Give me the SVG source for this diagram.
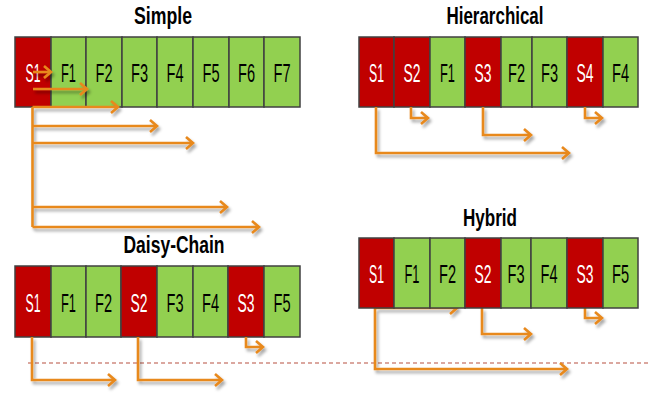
<svg xmlns="http://www.w3.org/2000/svg" width="662" height="395" viewBox="0 0 662 395">
  <style>
    .s { fill: #C00000; stroke: #404040; stroke-width: 1.5; }
    .f { fill: #92D050; stroke: #404040; stroke-width: 1.5; }
    .ls { font-family: "Liberation Sans", Arial, sans-serif; font-size: 26px; fill: #FFFFFF; text-anchor: middle; }
    .lf { font-family: "Liberation Sans", Arial, sans-serif; font-size: 26px; fill: #000000; text-anchor: middle; }
    .title { font-family: "Liberation Sans", Arial, sans-serif; font-size: 23px; font-weight: bold; fill: #000000; text-anchor: middle; }
    .arr { fill: none; stroke: #E8891D; stroke-width: 2.6; stroke-linejoin: miter; marker-end: url(#chev); }
    .ln { fill: none; stroke: #E8891D; stroke-width: 2.6; }
    .cut { fill: none; stroke: #CF8A80; stroke-width: 1.5; stroke-dasharray: 4 3; }
  </style>
  <defs>
    <marker id="chev" markerUnits="userSpaceOnUse" markerWidth="14" markerHeight="16" viewBox="-9 -8 12 16" refX="0" refY="0" orient="auto">
      <path d="M-7,-6 L0,0 L-7,6" fill="none" stroke="#E8891D" stroke-width="2.6"/>
    </marker>
    <filter id="shade" x="-10%" y="-20%" width="130%" height="160%">
      <feDropShadow dx="2" dy="3" stdDeviation="1.4" flood-color="#000000" flood-opacity="0.35"/>
    </filter>
  </defs>

  <!-- Simple -->
  <g id="simple">
    <text class="title" x="163" y="24" textLength="58" lengthAdjust="spacingAndGlyphs">Simple</text>
    <rect class="s" x="15" y="37" width="36" height="70"/>
    <rect class="f" x="51" y="37" width="35" height="70"/>
    <rect class="f" x="86" y="37" width="36" height="70"/>
    <rect class="f" x="122" y="37" width="35" height="70"/>
    <rect class="f" x="157" y="37" width="36" height="70"/>
    <rect class="f" x="193" y="37" width="36" height="70"/>
    <rect class="f" x="229" y="37" width="35" height="70"/>
    <rect class="f" x="264" y="37" width="36" height="70"/>
    <text class="ls" x="33" y="82" textLength="15" lengthAdjust="spacingAndGlyphs">S1</text>
    <text class="lf" x="68.5" y="82" textLength="15" lengthAdjust="spacingAndGlyphs">F1</text>
    <text class="lf" x="104" y="82" textLength="17" lengthAdjust="spacingAndGlyphs">F2</text>
    <text class="lf" x="139.5" y="82" textLength="17" lengthAdjust="spacingAndGlyphs">F3</text>
    <text class="lf" x="175" y="82" textLength="17" lengthAdjust="spacingAndGlyphs">F4</text>
    <text class="lf" x="211" y="82" textLength="17" lengthAdjust="spacingAndGlyphs">F5</text>
    <text class="lf" x="246.5" y="82" textLength="17" lengthAdjust="spacingAndGlyphs">F6</text>
    <text class="lf" x="282" y="82" textLength="17" lengthAdjust="spacingAndGlyphs">F7</text>
  </g>

  <!-- Hierarchical -->
  <g id="hierarchical">
    <text class="title" x="495" y="24" textLength="97" lengthAdjust="spacingAndGlyphs">Hierarchical</text>
    <rect class="s" x="359" y="37" width="35" height="70"/>
    <rect class="s" x="394" y="37" width="36" height="70"/>
    <rect class="f" x="430" y="37" width="35" height="70"/>
    <rect class="s" x="465" y="37" width="36" height="70"/>
    <rect class="f" x="501" y="37" width="31" height="70"/>
    <rect class="f" x="532" y="37" width="35" height="70"/>
    <rect class="s" x="567" y="37" width="36" height="70"/>
    <rect class="f" x="603" y="37" width="35" height="70"/>
    <text class="ls" x="376.5" y="82" textLength="15" lengthAdjust="spacingAndGlyphs">S1</text>
    <text class="ls" x="412" y="82" textLength="17" lengthAdjust="spacingAndGlyphs">S2</text>
    <text class="lf" x="447.5" y="82" textLength="15" lengthAdjust="spacingAndGlyphs">F1</text>
    <text class="ls" x="483" y="82" textLength="17" lengthAdjust="spacingAndGlyphs">S3</text>
    <text class="lf" x="516.5" y="82" textLength="17" lengthAdjust="spacingAndGlyphs">F2</text>
    <text class="lf" x="549.5" y="82" textLength="17" lengthAdjust="spacingAndGlyphs">F3</text>
    <text class="ls" x="585" y="82" textLength="17" lengthAdjust="spacingAndGlyphs">S4</text>
    <text class="lf" x="620.5" y="82" textLength="17" lengthAdjust="spacingAndGlyphs">F4</text>
  </g>

  <!-- Daisy-Chain -->
  <g id="daisy-chain">
    <text class="title" x="174" y="253" textLength="101" lengthAdjust="spacingAndGlyphs">Daisy-Chain</text>
    <rect class="s" x="15" y="266" width="36" height="71"/>
    <rect class="f" x="51" y="266" width="35" height="71"/>
    <rect class="f" x="86" y="266" width="35" height="71"/>
    <rect class="s" x="121" y="266" width="36" height="71"/>
    <rect class="f" x="157" y="266" width="36" height="71"/>
    <rect class="f" x="193" y="266" width="35" height="71"/>
    <rect class="s" x="228" y="266" width="36" height="71"/>
    <rect class="f" x="264" y="266" width="36" height="71"/>
    <text class="ls" x="33" y="312" textLength="15" lengthAdjust="spacingAndGlyphs">S1</text>
    <text class="lf" x="68.5" y="312" textLength="15" lengthAdjust="spacingAndGlyphs">F1</text>
    <text class="lf" x="103.5" y="312" textLength="17" lengthAdjust="spacingAndGlyphs">F2</text>
    <text class="ls" x="139" y="312" textLength="17" lengthAdjust="spacingAndGlyphs">S2</text>
    <text class="lf" x="175" y="312" textLength="17" lengthAdjust="spacingAndGlyphs">F3</text>
    <text class="lf" x="210.5" y="312" textLength="17" lengthAdjust="spacingAndGlyphs">F4</text>
    <text class="ls" x="246" y="312" textLength="17" lengthAdjust="spacingAndGlyphs">S3</text>
    <text class="lf" x="282" y="312" textLength="17" lengthAdjust="spacingAndGlyphs">F5</text>
  </g>

  <!-- Connectors -->
  <g id="connectors">
    <line class="cut" x1="28" y1="363" x2="650" y2="363"/>
    <g filter="url(#shade)">
      <!-- Simple: S1 fans out to every frame -->
      <path class="arr" d="M33,72 H51"/>
      <path class="arr" d="M33,89 H87"/>
      <path class="ln" d="M32.5,107 V227"/>
      <path class="arr" d="M32.5,107 H118"/>
      <path class="arr" d="M32.5,126 H157"/>
      <path class="arr" d="M32.5,143 H193"/>
      <path class="arr" d="M32.5,207 H227"/>
      <path class="arr" d="M32.5,227 H259"/>
      <!-- Hierarchical -->
      <path class="arr" d="M376,107 V153 H569"/>
      <path class="arr" d="M411,107 V118 H428"/>
      <path class="arr" d="M483,107 V135 H531"/>
      <path class="arr" d="M585,107 V118 H602"/>
      <!-- Daisy-Chain -->
      <path class="arr" d="M32,337 V380 H115"/>
      <path class="arr" d="M138,337 V380 H222"/>
      <path class="arr" d="M246,337 V347 H263"/>
      <!-- Hybrid -->
      <path class="arr" d="M376,308 H457"/>
      <path class="arr" d="M375,308 V369 H567"/>
      <path class="arr" d="M482,308 V334 H531"/>
      <path class="arr" d="M585,308 V318 H602"/>
    </g>
  </g>

  <!-- Hybrid -->
  <g id="hybrid">
    <text class="title" x="490" y="226" textLength="54" lengthAdjust="spacingAndGlyphs">Hybrid</text>
    <rect class="s" x="359" y="238" width="35" height="70"/>
    <rect class="f" x="394" y="238" width="36" height="70"/>
    <rect class="f" x="430" y="238" width="35" height="70"/>
    <rect class="s" x="465" y="238" width="36" height="70"/>
    <rect class="f" x="501" y="238" width="30" height="70"/>
    <rect class="f" x="531" y="238" width="36" height="70"/>
    <rect class="s" x="567" y="238" width="36" height="70"/>
    <rect class="f" x="603" y="238" width="35" height="70"/>
    <text class="ls" x="376.5" y="283" textLength="15" lengthAdjust="spacingAndGlyphs">S1</text>
    <text class="lf" x="412" y="283" textLength="15" lengthAdjust="spacingAndGlyphs">F1</text>
    <text class="lf" x="447.5" y="283" textLength="17" lengthAdjust="spacingAndGlyphs">F2</text>
    <text class="ls" x="483" y="283" textLength="17" lengthAdjust="spacingAndGlyphs">S2</text>
    <text class="lf" x="516" y="283" textLength="17" lengthAdjust="spacingAndGlyphs">F3</text>
    <text class="lf" x="549" y="283" textLength="17" lengthAdjust="spacingAndGlyphs">F4</text>
    <text class="ls" x="585" y="283" textLength="17" lengthAdjust="spacingAndGlyphs">S3</text>
    <text class="lf" x="620.5" y="283" textLength="17" lengthAdjust="spacingAndGlyphs">F5</text>
  </g>
</svg>
